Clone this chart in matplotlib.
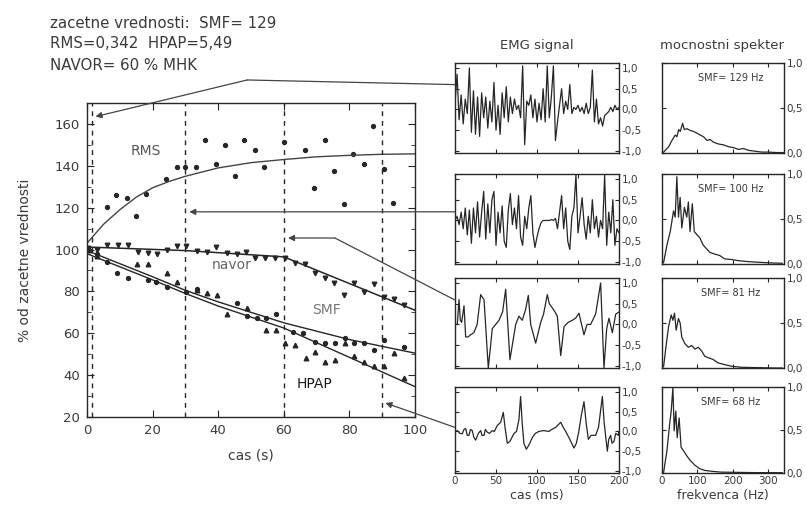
import numpy as np
import matplotlib
matplotlib.use("Agg")
import matplotlib.pyplot as plt
from matplotlib.patches import ConnectionPatch

W, H = 807, 517
TXT = "#3a3a3a"
LN = "#262626"

# --- glavni graf: % od zacetne vrednosti ---
rms_t = [6.2, 8.8, 12.1, 14.8, 18.0, 24.1, 27.3, 30.0, 33.2, 36.0, 39.3, 42.0, 45.2, 48.0,
         51.2, 54.0, 60.0, 66.5, 69.2, 72.6, 75.2, 78.4, 81.0, 84.5, 87.1, 90.5, 93.4]
rms_v = [120.5, 126.2, 124.8, 116.0, 126.4, 133.9, 139.6, 139.6, 139.6, 152.2, 140.9, 150.1, 135.1, 152.2,
         147.6, 139.6, 151.3, 147.6, 129.4, 152.2, 137.4, 121.6, 145.5, 140.7, 158.9, 138.5, 122.4]
rms_fit_t = [0, 5, 10, 15, 20, 25, 30, 40, 50, 60, 70, 80, 90, 100]
rms_fit_v = [103, 112, 119, 125, 129.5, 132.5, 135, 139, 141.5, 143, 144.3, 145, 145.5, 145.7]

navor_t = [0.4, 2.9, 6.2, 9.5, 12.6, 15.6, 18.7, 21.4, 24.5, 27.3, 30.2, 33.4, 36.5, 39.3, 42.6, 45.6,
           48.5, 51.2, 54.3, 57.3, 60.4, 63.4, 66.5, 69.5, 72.6, 75.4, 78.4, 81.3, 84.5, 87.6, 90.5,
           93.5, 96.5]
navor_v = [100.6, 99.8, 102.2, 102.2, 102.2, 99.0, 98.5, 97.9, 99.8, 101.7, 101.7, 99.5, 99.0, 101.4,
           98.2, 97.9, 99.0, 95.8, 95.8, 95.8, 95.8, 93.4, 92.9, 88.7, 86.3, 84.2, 78.1, 84.2, 79.6,
           83.5, 77.5, 76.2, 73.5]
navor_fit_t = [0, 30, 60, 100]
navor_fit_v = [101.2, 99.5, 96.5, 71]

smf_t = [0.5, 3.0, 6.0, 9.2, 12.6, 18.7, 21.0, 24.3, 30.3, 33.4, 45.6, 48.7, 51.7, 54.5, 57.5, 62.9,
         65.9, 69.5, 72.6, 75.6, 78.7, 81.4, 84.5, 87.6, 90.6, 96.7]
smf_v = [100, 98, 94, 89, 86.3, 85.5, 84.7, 82, 79.5, 81, 74.5, 68.4, 67.2, 67.2, 69, 60.5,
         60.3, 56, 55.2, 55.2, 57.6, 55.2, 55.2, 52, 56.8, 53.6]
smf_fit_t = [0, 20, 30, 40, 60, 80, 100]
smf_fit_v = [99.5, 87, 80.5, 75, 65, 57, 50.5]

hpap_t = [0.5, 3.0, 15.3, 18.7, 24.5, 27.3, 33.4, 36.5, 39.5, 42.6, 48.7, 54.5, 57.5, 60.4, 63.4,
          66.8, 69.5, 72.6, 75.6, 78.7, 81.4, 84.5, 87.6, 90.6, 93.7, 96.7]
hpap_v = [100, 97, 93, 93, 89, 84.3, 80.7, 79, 78.3, 69, 71.9, 61.6, 61.6, 55.2, 54.4,
          48, 51.2, 46.4, 47.2, 55.2, 49.1, 46.4, 44.4, 44.4, 50.4, 38.5]
hpap_fit_t = [0, 20, 30, 40, 60, 80, 100]
hpap_fit_v = [98, 85.5, 79, 73, 62.5, 48.5, 34.5]

vert_lines = [1.5, 30, 60, 90]

# --- EMG signali (cas v ms) ---
emg1_v = [0.15, 0.85, -0.25, 0.35, -0.35, 0.25, -0.1, 1.0, -0.55, 0.45, -0.6, 0.3, -0.65, 0.4,
          -0.2, 0.3, -0.45, 0.2, -0.3, 0.65, -0.5, 0.1, -0.6, 0.4, -0.2, 0.55, -0.3, 0.3, -0.1,
          0.25, 0.0, 0.1, -0.2, 1.05, -0.85, 0.2, 0.1, 0.35, -0.2, 0.25, -0.3, 0.15, -0.25, 0.5,
          -0.3, 1.05, -0.2, 0.3, 1.05, -0.75, -0.3, 0.1, 0.5, -0.1, 0.2, 0.0, 0.6, -0.1, 0.05,
          0.0, 0.1, -0.05, 0.05, -0.1, 0.15, -0.1, 0.05, 0.95, -0.3, 0.25, -0.35, -0.2, -0.4,
          -0.15, -0.1, -0.05, 0.05, -0.05, 0.1, 0.0, 0.05]
emg2_v = [0.0, 0.1, -0.1, 0.2, -0.2, 0.3, -0.35, 0.25, -0.55, 0.3, -0.3, 0.45, -0.4, 0.2, 0.7,
          -0.45, 0.4, -0.3, 0.5, 0.7, -0.6, 0.2, -0.3, 0.35, -0.5, -0.65, 0.25, 0.65, -0.1, 0.3,
          -0.2, 0.6, -0.4, -0.6, 0.1, -0.2, 0.3, 0.6, -0.3, -0.65, -0.4, -0.2, -0.05, 0.0, 0.0,
          0.0, 0.0, 0.02, 0.0, 0.05, -0.2, 0.2, 0.6, -0.2, 0.3, -0.5, -0.7, 0.1, 0.3, 1.1, -0.3,
          0.1, 0.55, -0.1, -0.45, 0.1, -0.3, 0.5, -0.2, 0.1, -0.4, 0.0, -0.2, 1.1, -0.6, 0.2,
          -0.3, 0.5, -0.6, -0.2, -0.3]
emg12_t = np.arange(0, 200.1, 2.5)

emg3_t = [0, 2.8, 4.9, 6.5, 8.1, 11, 13, 16, 19, 23, 27, 31.3, 33.5, 35.4, 40.6, 45.5, 53.7, 58,
          61.8, 67, 74, 78, 82, 86, 89.4, 92.3, 98.4, 104.5, 108, 112.6, 115, 118.7, 122, 124.8,
          128.9, 133, 138, 143, 147, 151.2, 157.3, 161, 165.4, 171.5, 177.6, 181.7, 185, 187.8,
          191.9, 196, 200]
emg3_v = [0.0, 0.0, 0.6, 0.1, 0.05, 0.45, -0.3, -0.3, -0.25, -0.2, 0.0, 0.72, 0.65, 0.6, -1.05,
          -0.1, 0.1, 0.3, 0.85, -0.85, 0.0, 0.2, 0.1, 0.35, 0.7, 0.0, -0.45, 0.05, 0.25, 0.72,
          0.5, 0.4, 0.3, 0.2, -0.75, -0.05, 0.05, 0.1, 0.15, 0.27, -0.25, 0.0, 0.0, 0.25, 1.0,
          -1.05, -0.1, 0.15, -0.2, 0.25, 0.3]

emg4_t = [0, 2.8, 6, 8.9, 11, 13, 15, 17, 19, 21, 23, 25.2, 28.5, 31.3, 33, 35.4, 37, 39.4, 42,
          45.5, 48, 51.6, 55.7, 58.9, 61, 63.8, 67, 72, 75, 78, 80, 82, 84, 87, 90, 94.4, 98,
          102.4, 108, 114.6, 118, 122.8, 128.9, 132, 135, 140, 145.1, 148, 151, 154, 157.3, 160,
          162.6, 166, 171.5, 175, 179.7, 182, 185.8, 187.5, 189.8, 191.5, 193.9, 196, 199.2, 200]
emg4_v = [0.0, 0.02, -0.05, -0.06, 0.05, 0.07, -0.1, -0.1, 0.05, 0.02, -0.15, -0.22, -0.05,
          0.02, -0.1, -0.1, 0.05, -0.02, -0.05, 0.02, 0.0, 0.15, 0.23, 0.48, 0.1, -0.3, -0.25,
          -0.05, 0.0, 0.3, 0.88, 0.2, -0.3, -0.45, -0.35, -0.15, -0.05, 0.0, 0.02, 0.0, 0.05,
          0.1, 0.23, 0.1, 0.0, -0.2, -0.42, -0.3, 0.0, 0.4, 0.75, 0.2, -0.2, -0.1, -0.1, 0.1,
          0.88, 0.2, -0.5, -0.2, -0.1, -0.3, -0.25, -0.05, -0.1, 0.0]

# --- mocnostni spektri (frekvenca v Hz) ---
sp1_f = [0, 4.7, 18.8, 28.2, 37.6, 42.3, 47, 51.7, 58.3, 63, 70.5, 80, 89, 98.7, 108, 117.5, 127,
         136, 145.7, 160, 174, 188, 202, 216, 230, 244, 263, 282, 301, 324, 343]
sp1_v = [0, 0.01, 0.07, 0.14, 0.2, 0.18, 0.26, 0.24, 0.33, 0.26, 0.27, 0.25, 0.24, 0.22, 0.2,
         0.18, 0.14, 0.15, 0.12, 0.1, 0.09, 0.07, 0.06, 0.04, 0.05, 0.03, 0.02, 0.01, 0.01,
         0.005, 0.005]
sp2_f = [0, 4.7, 14, 23.3, 32.6, 37.3, 42, 46.6, 51.3, 56, 63.4, 70, 74.6, 79.2, 85.7, 91.3,
         97.9, 107, 116.5, 125.8, 135, 149, 163, 177, 196, 214, 242, 270, 307.6, 340]
sp2_v = [0, 0.02, 0.21, 0.36, 0.59, 0.52, 0.97, 0.52, 0.74, 0.4, 0.63, 0.52, 0.69, 0.36, 0.67,
         0.36, 0.33, 0.29, 0.21, 0.17, 0.13, 0.11, 0.095, 0.057, 0.05, 0.038, 0.027, 0.02,
         0.012, 0.008]
sp3_f = [0, 4.7, 11, 18.6, 26, 30.8, 35.4, 40, 46.6, 51.3, 56, 65, 74.6, 84, 93, 102.5, 112,
         121, 130.5, 144.5, 158.4, 177, 196, 224, 270, 317, 340]
sp3_v = [0, 0.02, 0.23, 0.46, 0.59, 0.53, 0.61, 0.42, 0.55, 0.5, 0.34, 0.27, 0.23, 0.25, 0.21,
         0.23, 0.19, 0.13, 0.115, 0.095, 0.057, 0.038, 0.02, 0.008, 0.004, 0.0, 0.0]
sp4_f = [0, 4.7, 14, 21.4, 26, 30.8, 34.5, 39, 43, 48.5, 54, 60.6, 70, 79, 93, 107, 121, 140,
         168, 205, 270, 340]
sp4_v = [0, 0.01, 0.26, 0.56, 0.72, 0.99, 0.49, 0.72, 0.41, 0.64, 0.3, 0.26, 0.2, 0.15, 0.09,
         0.05, 0.03, 0.02, 0.01, 0.008, 0.004, 0.004]
smf_hz = [129, 100, 81, 68]

emg_series = [(emg12_t, emg1_v), (emg12_t, emg2_v), (emg3_t, emg3_v), (emg4_t, emg4_v)]
sp_series = [(sp1_f, sp1_v), (sp2_f, sp2_v), (sp3_f, sp3_v), (sp4_f, sp4_v)]

fig = plt.figure(figsize=(W / 100, H / 100), dpi=100)


def px_axes(left, top, right, bottom):
    return fig.add_axes([left / W, 1 - bottom / H, (right - left) / W, (bottom - top) / H])


def style(ax):
    for s in ax.spines.values():
        s.set_color(LN)
        s.set_linewidth(1.0)
    ax.tick_params(direction="in", colors=LN, labelcolor=TXT, width=0.8)


# glavni graf
ax = px_axes(87, 103, 415, 417)
style(ax)
ax.plot(rms_t, rms_v, "o", color=LN, ms=2.8)
ax.plot(rms_fit_t, rms_fit_v, "-", color="#444444", lw=1.0)
ax.plot(navor_t, navor_v, "v", color=LN, ms=3.3)
ax.plot(navor_fit_t, navor_fit_v, "-", color=LN, lw=1.1)
ax.plot(smf_t, smf_v, "o", color=LN, ms=2.8)
ax.plot(smf_fit_t, smf_fit_v, "-", color=LN, lw=1.0)
ax.plot(hpap_t, hpap_v, "^", color=LN, ms=3.3)
ax.plot(hpap_fit_t, hpap_fit_v, "-", color=LN, lw=1.0)
for x in vert_lines:
    ax.axvline(x, color=LN, lw=1.0, ls=(0, (3.5, 3.5)))
ax.set_xlim(0, 100)
ax.set_ylim(20, 170)
ax.set_xticks(range(0, 101, 20))
ax.set_yticks(range(20, 161, 20))
ax.set_yticks(range(30, 170, 20), minor=True)
ax.tick_params(which="both", top=True, right=True, labelsize=9.5, pad=5)
ax.tick_params(which="major", length=5)
ax.tick_params(which="minor", length=3, direction="in", color=LN)
ax.set_xlabel("cas (s)", color=TXT, fontsize=10, labelpad=8)
ax.set_ylabel("% od zacetne vrednosti", color=TXT, fontsize=10, labelpad=16)
ax.text(18, 147, "RMS", color="#555555", fontsize=10, ha="center", va="center")
ax.text(44, 92.5, "navor", color="#666666", fontsize=10, ha="center", va="center")
ax.text(73, 71, "SMF", color="#777777", fontsize=10, ha="center", va="center")
ax.text(69.5, 36, "HPAP", color="#1a1a1a", fontsize=10, ha="center", va="center")

fig.text(50 / W, 1 - 23 / H, "zacetne vrednosti:  SMF= 129", color=TXT, fontsize=10.8, va="center")
fig.text(50 / W, 1 - 44 / H, "RMS=0,342  HPAP=5,49", color=TXT, fontsize=10.8, va="center")
fig.text(50 / W, 1 - 65 / H, "NAVOR= 60 % MHK", color=TXT, fontsize=10.8, va="center")

# desni panoji
rows = [(63, 153), (174, 264), (278, 368), (387, 473)]
emg_axes = []
for i, (top, bot) in enumerate(rows):
    ea = px_axes(455, top, 619, bot)
    style(ea)
    t, v = emg_series[i]
    ea.plot(t, v, color=LN, lw=0.9)
    ea.set_xlim(0, 200)
    ea.set_ylim(-1.05, 1.12)
    ea.set_xticks([0, 50, 100, 150, 200])
    ea.set_yticks([-1, -0.5, 0, 0.5, 1])
    ea.set_yticklabels(["-1,0", "-0,5", "0,0", "0,5", "1,0"])
    ea.tick_params(left=True, right=True, top=True, labelleft=False, labelright=True,
                   labelbottom=(i == 3), labelsize=7.5, length=3, pad=2)
    emg_axes.append(ea)

    sa = px_axes(662, top, 784, bot)
    style(sa)
    f, p = sp_series[i]
    sa.plot(f, p, color=LN, lw=0.9)
    sa.set_xlim(0, 345)
    sa.set_ylim(0, 1.0)
    sa.set_xticks([0, 100, 200, 300])
    sa.set_yticks([0, 0.5, 1])
    sa.set_yticklabels(["0,0", "0,5", "1,0"])
    sa.tick_params(left=True, right=True, top=True, labelleft=False, labelright=True,
                   labelbottom=(i == 3), labelsize=7.5, length=3, pad=2)
    sa.text(0.56, 0.83, f"SMF= {smf_hz[i]} Hz", transform=sa.transAxes, fontsize=7,
            color=TXT, ha="center", va="center")
    if i == 3:
        ea.set_xlabel("cas (ms)", color=TXT, fontsize=9, labelpad=2)
        sa.set_xlabel("frekvenca (Hz)", color=TXT, fontsize=9, labelpad=2)

fig.text(537 / W, 1 - 45 / H, "EMG signal", color=TXT, fontsize=9.5, ha="center", va="center")
fig.text(722 / W, 1 - 45 / H, "mocnostni spekter", color=TXT, fontsize=9.5, ha="center", va="center")

# puscice od EMG panojev do grafa
arrow_kw = dict(arrowstyle="-|>", mutation_scale=9, color="#444444", lw=0.9, shrinkA=0, shrinkB=0)
line_kw = dict(arrowstyle="-", color="#444444", lw=0.9, shrinkA=0, shrinkB=0)

# 1: panel 1 -> prelom -> zacetek
fig.add_artist(ConnectionPatch(xyA=(0, 0.76), coordsA=emg_axes[0].transAxes,
                               xyB=(48.8, 181), coordsB=ax.transData, **line_kw))
fig.add_artist(ConnectionPatch(xyA=(48.8, 181), coordsA=ax.transData,
                               xyB=(2.6, 163.5), coordsB=ax.transData, **arrow_kw))
# 2: panel 2 -> 30 s
fig.add_artist(ConnectionPatch(xyA=(0, 0.58), coordsA=emg_axes[1].transAxes,
                               xyB=(31.2, 118), coordsB=ax.transData, **arrow_kw))
# 3: panel 3 -> prelom -> 60 s
fig.add_artist(ConnectionPatch(xyA=(0, 0.755), coordsA=emg_axes[2].transAxes,
                               xyB=(75.6, 105.5), coordsB=ax.transData, **line_kw))
fig.add_artist(ConnectionPatch(xyA=(75.6, 105.5), coordsA=ax.transData,
                               xyB=(61.3, 105.5), coordsB=ax.transData, **arrow_kw))
# 4: panel 4 -> 90 s
fig.add_artist(ConnectionPatch(xyA=(0, 0.53), coordsA=emg_axes[3].transAxes,
                               xyB=(91.0, 26.7), coordsB=ax.transData, **arrow_kw))

fig.savefig("out.png", dpi=100, facecolor="white")
